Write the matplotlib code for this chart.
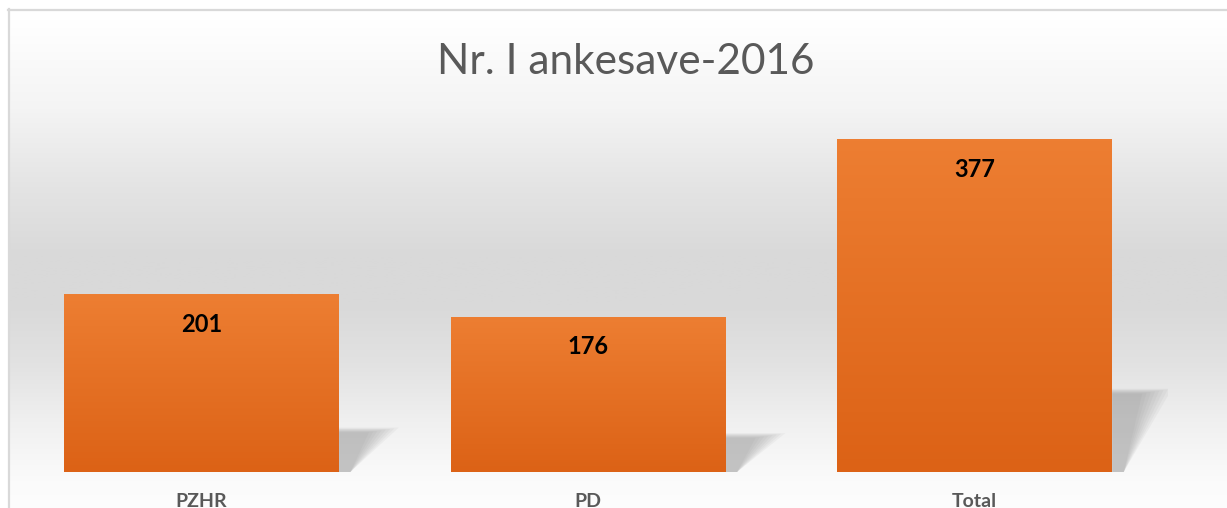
import numpy as np
import matplotlib
matplotlib.use('Agg')
from matplotlib import pyplot as plt
from matplotlib.patches import Polygon
from matplotlib.lines import Line2D

# data
categories = ['PZHR', 'PD', 'Total']
values = [201, 176, 377]
title = 'Nr. I ankesave-2016'

W, H = 1227, 508
fig = plt.figure(figsize=(W / 100, H / 100), dpi=100)

# background gradient inside the chart border
bg = fig.add_axes([0, 0, 1, 1], zorder=0)
bg.set_xlim(0, W)
bg.set_ylim(H, 0)
bg.axis('off')
ys = np.array([0, 10, 100, 180, 250, 300, 360, 420, 480, 508])
gs = np.array([255, 255, 244, 228, 217, 217, 226, 240, 251, 253])
col = np.interp(np.arange(H), ys, gs) / 255
img = np.repeat(col[:, None], 2, axis=1)
img = np.dstack([img, img, img])
bg.imshow(img, extent=(8, W, H, 10), aspect='auto', interpolation='bilinear')
bg.add_line(Line2D([8, W], [9.5, 9.5], color='#d9d9d9', lw=1.6))
bg.add_line(Line2D([8.5, 8.5], [9, H], color='#d9d9d9', lw=1.6))

fig.text(626 / W, 1 - 62 / H, title, ha='center', va='center',
         fontsize=30.5, color='#595959', family='Lato')

ax = fig.add_axes([8 / W, 36 / H, 1160 / W, 371 / H], zorder=1)
ax.patch.set_alpha(0)
x = np.arange(len(categories))
width = 0.711
bars = ax.bar(x, values, width, color='none')
ax.set_xlim(-0.5, len(categories) - 0.5)
ax.set_ylim(0, 420)

# orange gradient in each bar
grad = np.linspace(0, 1, 100)[:, None]
top_c = np.array([237, 126, 50]) / 255
bot_c = np.array([220, 98, 22]) / 255
gimg = top_c * (1 - grad[..., None]) + bot_c * grad[..., None]
for b in bars:
    x0, w, h = b.get_x(), b.get_width(), b.get_height()
    im = ax.imshow(gimg, extent=(x0, x0 + w, 0, h), aspect='auto', zorder=2)
    im.set_clip_path(b)
    # soft perspective shadow to the right
    xr = x0 + w
    sh = 0.25 * h
    for k in range(8):
        d = k * 0.011
        poly = Polygon([(xr, sh - d * 70), (xr + 0.155 - d, sh - d * 70),
                        (xr + 0.03, 0), (xr, 0)],
                       closed=True, facecolor='#7f7f7f', edgecolor='none',
                       alpha=0.065, zorder=1)
        ax.add_patch(poly)
    ax.text(x0 + w / 2, h - 34, str(int(h)), ha='center', va='center',
            fontsize=17, fontweight='bold', color='black', family='Lato', zorder=3)

ax.set_xticks(x, categories, fontweight='bold', family='Lato', fontsize=14,
              color='#595959')
ax.tick_params(axis='x', length=0, pad=15)
ax.set_yticks([])
for s in ax.spines.values():
    s.set_visible(False)

fig.savefig('out.png', dpi=100)
